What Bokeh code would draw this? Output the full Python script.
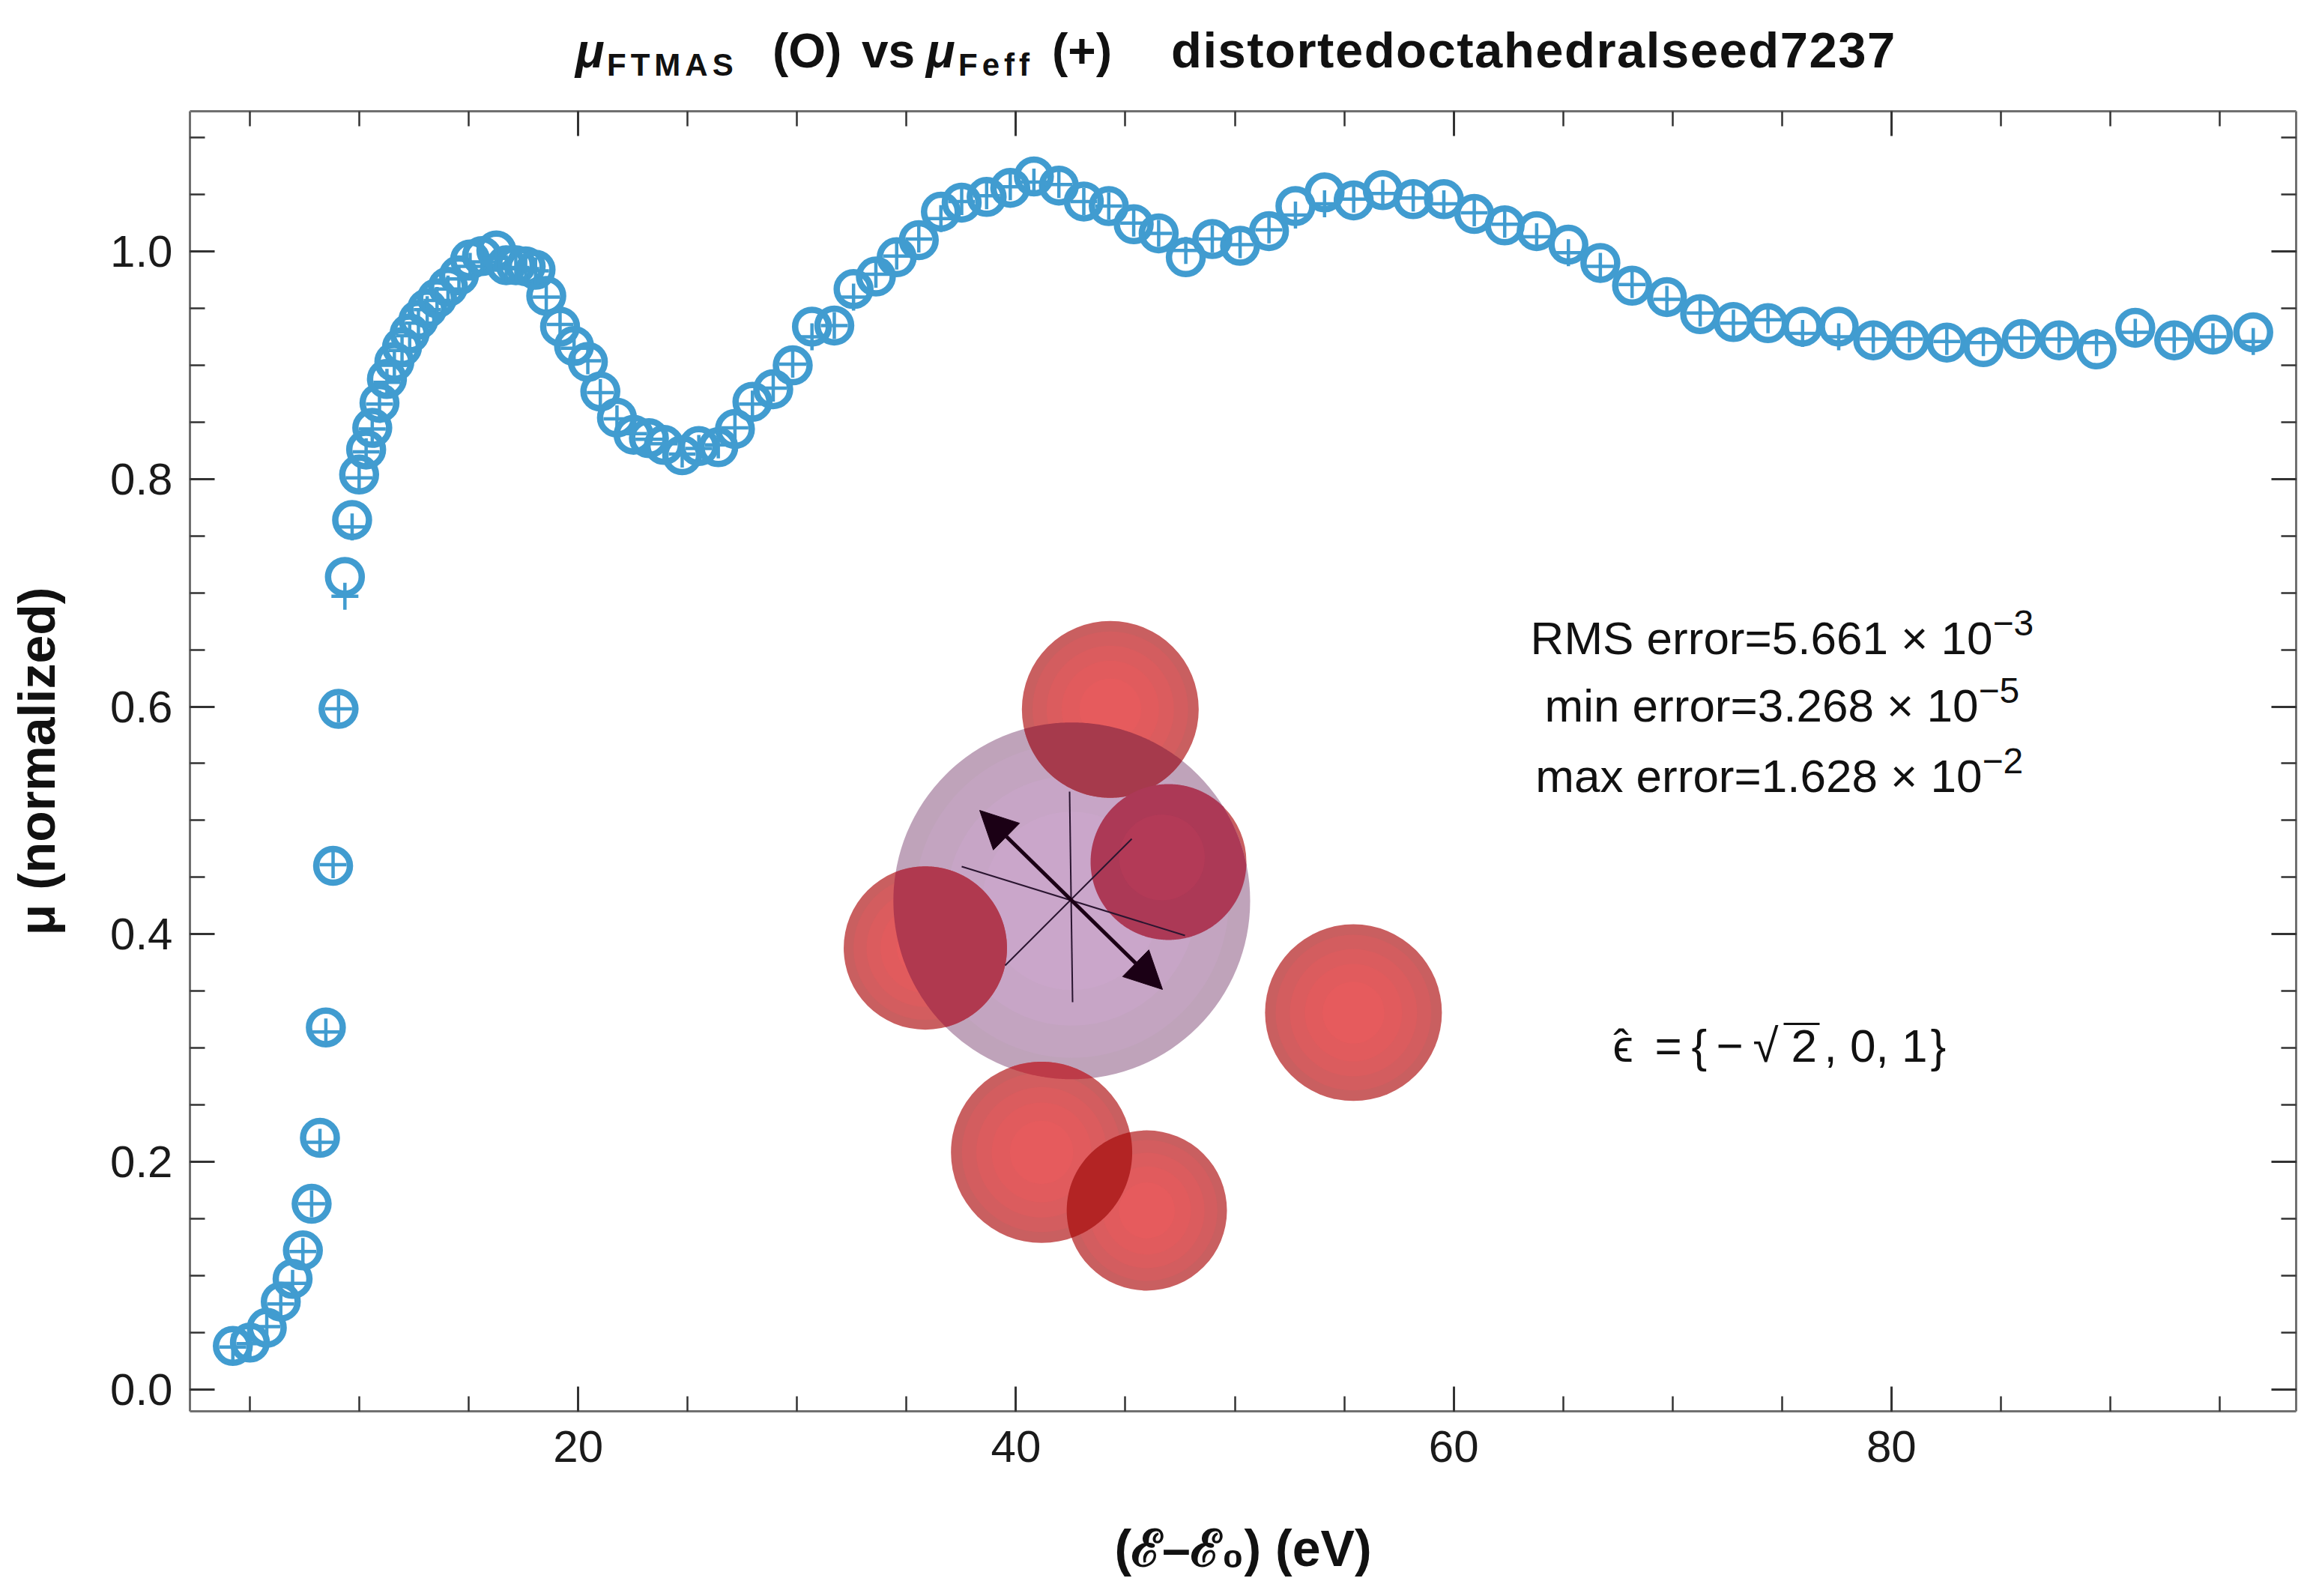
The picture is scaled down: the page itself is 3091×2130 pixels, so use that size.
import numpy as np
from bokeh.embed import file_html
from bokeh.resources import INLINE
from bokeh.plotting import figure
from bokeh.layouts import column
from bokeh.models import (ColumnDataSource, Range1d, LinearAxis, FixedTicker, Label, Div,
                          Arrow, NormalHead, NumeralTickFormatter, CustomJSTickFormatter)

# --- data ------------------------------------------------------------------
energy = [4.22, 5.00, 5.77, 6.41, 6.95, 7.42, 7.82, 8.20, 8.47, 8.80,
          9.05, 9.34, 9.67, 9.99, 10.31, 10.59, 10.92, 11.26, 11.60, 11.95,
          12.30, 12.70, 13.10, 13.55, 14.05, 14.55, 15.06, 15.60, 16.26, 16.71,
          17.15, 17.60, 18.05, 18.54, 19.17, 19.81, 20.44, 21.01, 21.77, 22.53,
          23.23, 23.92, 24.75, 25.51, 26.40, 27.16, 27.96, 28.91, 29.80, 30.68,
          31.70, 32.58, 33.60, 34.55, 35.56, 36.57, 37.52, 38.66, 39.74, 40.82,
          41.96, 43.10, 44.24, 45.38, 46.52, 47.76, 48.97, 50.24, 51.56, 52.77,
          54.10, 55.43, 56.76, 58.15, 59.55, 60.94, 62.33, 63.79, 65.24, 66.70,
          68.15, 69.74, 71.26, 72.78, 74.36, 75.94, 77.59, 79.17, 80.82, 82.53,
          84.20, 85.95, 87.66, 89.37, 91.14, 92.92, 94.69, 96.53]

mu_ftmas = [0.038, 0.041, 0.054, 0.077, 0.097, 0.122, 0.163, 0.221, 0.318, 0.460,
            0.598, 0.714, 0.764, 0.804, 0.826, 0.845, 0.867, 0.888, 0.903, 0.916,
            0.928, 0.940, 0.950, 0.959, 0.969, 0.979, 0.993, 0.996, 1.001, 0.988,
            0.988, 0.987, 0.984, 0.961, 0.934, 0.917, 0.903, 0.877, 0.854, 0.839,
            0.836, 0.830, 0.821, 0.829, 0.828, 0.844, 0.868, 0.879, 0.900, 0.934,
            0.935, 0.967, 0.978, 0.995, 1.010, 1.035, 1.043, 1.048, 1.056, 1.066,
            1.058, 1.044, 1.040, 1.024, 1.016, 0.995, 1.011, 1.005, 1.018, 1.040,
            1.052, 1.045, 1.054, 1.046, 1.046, 1.033, 1.023, 1.018, 1.006, 0.990,
            0.970, 0.960, 0.945, 0.938, 0.937, 0.934, 0.934, 0.922, 0.922, 0.920,
            0.916, 0.923, 0.922, 0.914, 0.933, 0.922, 0.927, 0.929]

mu_feff = [0.037, 0.040, 0.055, 0.075, 0.093, 0.121, 0.163, 0.217, 0.314, 0.461,
           0.598, 0.697, 0.758, 0.801, 0.824, 0.844, 0.866, 0.885, 0.900, 0.913,
           0.926, 0.937, 0.949, 0.957, 0.967, 0.976, 0.987, 0.991, 0.994, 0.985,
           0.986, 0.985, 0.983, 0.960, 0.936, 0.915, 0.904, 0.876, 0.853, 0.840,
           0.835, 0.831, 0.822, 0.827, 0.830, 0.845, 0.866, 0.880, 0.901, 0.925,
           0.935, 0.960, 0.980, 0.996, 1.011, 1.029, 1.044, 1.049, 1.057, 1.061,
           1.059, 1.044, 1.040, 1.025, 1.016, 1.001, 1.011, 1.006, 1.019, 1.032,
           1.042, 1.046, 1.051, 1.047, 1.042, 1.034, 1.024, 1.013, 0.999, 0.987,
           0.971, 0.958, 0.946, 0.937, 0.940, 0.928, 0.925, 0.923, 0.923, 0.921,
           0.920, 0.924, 0.923, 0.920, 0.929, 0.923, 0.925, 0.921]

x_ticks = [20, 40, 60, 80]
x_minor = list(range(5, 100, 5))
y_ticks = [0.0, 0.2, 0.4, 0.6, 0.8, 1.0]
y_minor = [round(0.05 * i, 2) for i in range(23)]

# molecule inset: oxygen spheres and the central absorber (radius in x units)
atom_x = [44.31, 46.97, 35.86, 55.42, 41.17, 45.98]
atom_y = [0.5976, 0.4634, 0.3878, 0.3310, 0.2082, 0.1571]
atom_r = [4.04, 3.56, 3.73, 4.04, 4.14, 3.66]
absorber = (42.55, 0.4293, 8.15)

BLUE = "#419CD0"
W, H = 3075, 2114
HEAD = 130                      # height of the title strip above the plot
LEFT, RIGHT, TOP, BOTTOM = 253, 11, 148, 231
X0, X1 = 2.26, 98.49
Y0, Y1 = -0.0194, 1.1233
SX = (W - LEFT - RIGHT) / (X1 - X0)
SY = (H - TOP - BOTTOM) / (Y1 - Y0)


def ref(xo, yo):
    """reference-image pixel -> data coordinates"""
    return X0 + (xo - LEFT) / SX, Y1 - (yo - TOP) / SY


p = figure(width=W, height=H - HEAD, x_range=Range1d(X0, X1), y_range=Range1d(Y0, Y1),
           output_backend="svg", toolbar_location=None, tools="",
           min_border_left=LEFT, min_border_right=RIGHT,
           min_border_top=TOP - HEAD, min_border_bottom=BOTTOM, margin=0)
p.grid.visible = False
p.outline_line_color = None
p.background_fill_color = "white"
p.border_fill_color = "white"

p.add_layout(LinearAxis(), "above")
p.add_layout(LinearAxis(), "right")
for ax in p.xaxis:
    ax.ticker = FixedTicker(ticks=x_ticks, minor_ticks=x_minor)
for ax in p.yaxis:
    ax.ticker = FixedTicker(ticks=y_ticks, minor_ticks=y_minor)
for ax in p.axis:
    ax.axis_line_color = "#707070"
    ax.axis_line_width = 3
    ax.major_tick_in = 33
    ax.major_tick_out = 0
    ax.minor_tick_in = 20
    ax.minor_tick_out = 0
    ax.major_tick_line_color = "#333333"
    ax.major_tick_line_width = 3
    ax.minor_tick_line_color = "#333333"
    ax.minor_tick_line_width = 2.5
    ax.major_label_text_font = "Liberation Sans"
    ax.major_label_text_font_size = "60px"
    ax.major_label_text_color = "#1a1a1a"
    ax.axis_label_text_font = "Liberation Sans"
    ax.axis_label_text_font_size = "68px"
    ax.axis_label_text_font_style = "bold"
    ax.axis_label_text_color = "#111111"

for ax in (p.above[0], p.right[0]):
    ax.formatter = CustomJSTickFormatter(code="return ''")
    ax.major_label_text_font_size = "1px"
    ax.major_label_standoff = 0

bx, ly = p.below[0], p.left[0]
bx.axis_label = "(ℰ–ℰ₀) (eV)"
bx.major_label_standoff = 26
bx.axis_label_standoff = 74
ly.axis_label = "μ (normalized)"
ly.formatter = NumeralTickFormatter(format="0.0")
ly.major_label_standoff = 23
ly.axis_label_standoff = 57

# --- molecule inset ----------------------------------------------------------
RED_LAYERS = [(1.0, "#C95F60"), (0.88, "#D35D5F"), (0.72, "#DB5C5E"), (0.55, "#E15B5D"), (0.35, "#E65B5D")]
PURPLE_LAYERS = [(1.0, "#BFA3BA"), (0.88, "#C3A4C0"), (0.7, "#C7A5C6"), (0.5, "#CAA6CA")]


def sphere(x, y, r, layers):
    for f, c in layers:
        p.circle(x=[x], y=[y], radius=r * f, fill_color=c, line_color=None)


def lens(a, b, n=720):
    """overlap of two circles given in data coords (radius in x units)"""
    (xa, ya, ra), (xb, yb, rb) = a, b
    xa, ya, ra, xb, yb, rb = xa * SX, ya * SY, ra * SX, xb * SX, yb * SY, rb * SX
    t = np.linspace(0, 2 * np.pi, n, endpoint=False)
    pa = np.c_[xa + ra * np.cos(t), ya + ra * np.sin(t)]
    pb = np.c_[xb + rb * np.cos(t), yb + rb * np.sin(t)]
    pts = np.vstack([pa[np.hypot(pa[:, 0] - xb, pa[:, 1] - yb) <= rb],
                     pb[np.hypot(pb[:, 0] - xa, pb[:, 1] - ya) <= ra]])
    c = pts.mean(axis=0)
    pts = pts[np.argsort(np.arctan2(pts[:, 1] - c[1], pts[:, 0] - c[0]))]
    return pts[:, 0] / SX, pts[:, 1] / SY


atoms = list(zip(atom_x, atom_y, atom_r))
sphere(*atoms[1], RED_LAYERS)
sphere(*absorber, PURPLE_LAYERS)
for i in (0, 2, 3, 4, 5):
    sphere(*atoms[i], RED_LAYERS)

overlaps = [(atoms[0], absorber, "#A63A4C"), (atoms[1], absorber, "#AC3956"),
            (atoms[2], absorber, "#B0394F"), (atoms[4], absorber, "#BD3B48"),
            (atoms[4], atoms[5], "#B32424")]
for a, b, col in overlaps:
    lx, lyy = lens(a, b)
    p.patch(lx, lyy, fill_color=col, line_color=None)
p.circle(x=[atom_x[1] - 0.3], y=[atom_y[1] + 0.004], radius=atom_r[1] * 0.55, fill_color="#B73A58",
         line_color=None, fill_alpha=0.7)

# crystal axes through the absorber
seg = [ref(1427, 1056) + ref(1431, 1337), ref(1283, 1156) + ref(1581, 1248), ref(1341, 1288) + ref(1510, 1119)]
p.segment(x0=[s[0] for s in seg], y0=[s[1] for s in seg], x1=[s[2] for s in seg], y1=[s[3] for s in seg],
          line_color="#2a1530", line_width=2)
ax0, ay0 = ref(1307, 1081)
ax1, ay1 = ref(1551, 1320)
p.add_layout(Arrow(x_start=ax0, y_start=ay0, x_end=ax1, y_end=ay1, line_color="#1b0015", line_width=5,
                   start=NormalHead(size=50, fill_color="#1b0015", line_color="#1b0015"),
                   end=NormalHead(size=50, fill_color="#1b0015", line_color="#1b0015")))

# --- data series -------------------------------------------------------------
src = ColumnDataSource(dict(e=energy, ftmas=mu_ftmas, feff=mu_feff))
p.scatter("e", "ftmas", source=src, marker="circle", size=45, fill_color=None,
          line_color=BLUE, line_width=8.5)
p.scatter("e", "feff", source=src, marker="cross", size=36, line_color=BLUE, line_width=4.5)


# --- texts inside the plot ---------------------------------------------------
def label(text, xo, yo, size, style="normal", align="left"):
    x, y = ref(xo, yo - 24)
    p.add_layout(Label(x=x, y=y, text=text, text_font="Liberation Sans", text_font_size=f"{size}px",
                       text_font_style=style, text_align=align, text_baseline="alphabetic",
                       text_color="#111111"))


for main, sup, xs, yb in [("RMS error=5.661 × 10", "−3", 2659, 875),
                          ("min error=3.268 × 10", "−5", 2640, 965),
                          ("max error=1.628 × 10", "−2", 2645, 1059)]:
    label(main, xs, yb, 62, align="right")
    label(sup, xs, yb - 20, 48)

# polarisation vector, set piece by piece like the reference
for txt, xo in [("\u03f5", 2152), ("=", 2208), ("{", 2257), ("−", 2290), ("√", 2339),
                ("2", 2390), (", 0, 1", 2434), ("}", 2576)]:
    label(txt, xo, 1419, 62)
label("ˆ", 2153, 1419, 62)
vx0, vy0 = ref(2380, 1366)
vx1, vy1 = ref(2428, 1366)
p.segment(x0=[vx0], y0=[vy0], x1=[vx1], y1=[vy1], line_color="#111111", line_width=3)


# --- title strip (html, so subscripts can be set) -----------------------------
def piece(text, left, base, size, style="normal", spacing=0):
    bottom = HEAD - base - 0.1535 * size
    return (f'<span style="position:absolute;left:{left}px;bottom:{bottom:.1f}px;font-size:{size}px;'
            f'line-height:1;font-weight:bold;font-style:{style};letter-spacing:{spacing}px;'
            f'white-space:nowrap;">{text}</span>')


title_html = ('<div style="position:relative;width:%dpx;height:%dpx;font-family:\'Liberation Sans\',Arial,'
              'sans-serif;color:#111111;">' % (W, HEAD)
              + piece("μ", 768, 90, 64, "italic")
              + piece("FTMAS", 810, 102, 42, spacing=6)
              + piece("(O)", 1031, 90, 64)
              + piece("vs", 1150, 90, 64)
              + piece("μ", 1236, 90, 64, "italic")
              + piece("Feff", 1279, 102, 42, spacing=6)
              + piece("(+)", 1404, 90, 64)
              + piece("distortedoctahedralseed7237", 1563, 90, 67, spacing=1.5)
              + "</div>")
title = Div(text=title_html, width=W, height=HEAD, margin=0)

layout = column(title, p, spacing=0, margin=0)
open("out.html", "w").write(file_html(layout, INLINE))
